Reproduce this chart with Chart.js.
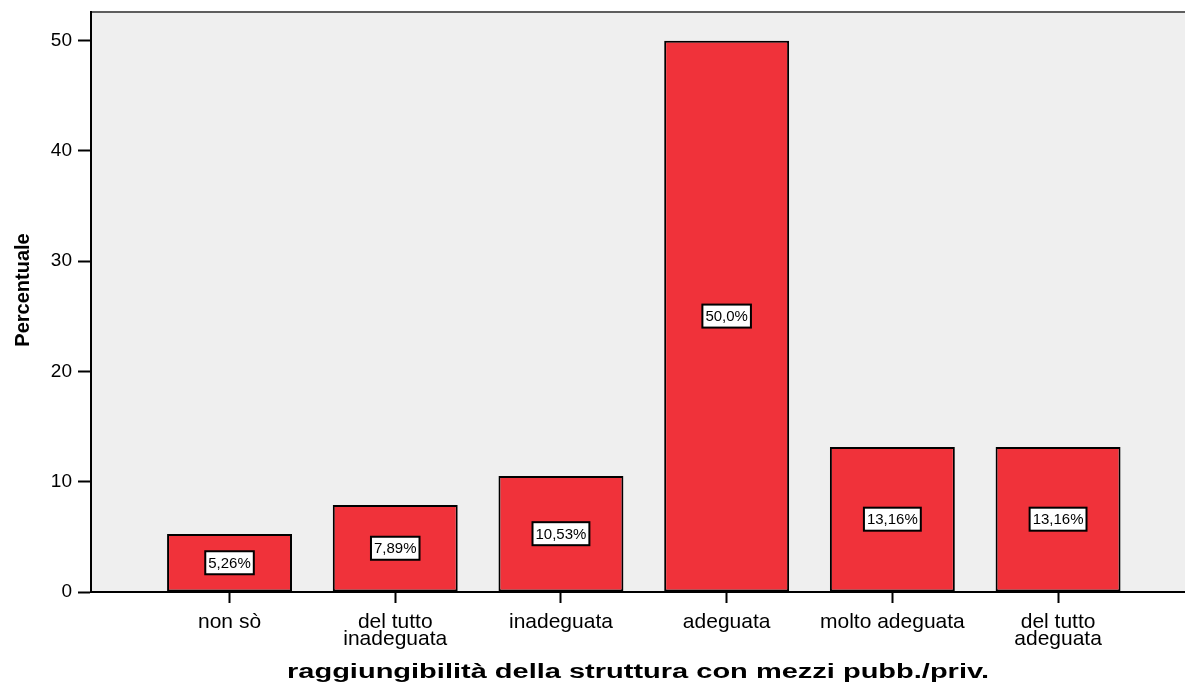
<!DOCTYPE html>
<html>
<head>
<meta charset="utf-8">
<script src="https://cdn.jsdelivr.net/npm/chart.js"></script>
<style>
  html, body { margin: 0; padding: 0; background: #ffffff; }
  #wrap { width: 1185px; height: 687px; position: relative; }
</style>
</head>
<body>
<div id="wrap"><canvas id="chart"></canvas></div>
<script>
// data
const categories = [
  ['non sò'],
  ['del tutto', 'inadeguata'],
  ['inadeguata'],
  ['adeguata'],
  ['molto adeguata'],
  ['del tutto', 'adeguata']
];
const percentages = [5.26, 7.89, 10.53, 50.0, 13.16, 13.16];
const valueLabels = ['5,26%', '7,89%', '10,53%', '50,0%', '13,16%', '13,16%'];
const yTicks = [0, 10, 20, 30, 40, 50];
const xTitle = 'raggiungibilità della struttura con mezzi pubb./priv.';
const yTitle = 'Percentuale';

const FONT = '"Liberation Sans", Arial, sans-serif';
const BAR_RED = 'rgb(240, 50, 58)';

// grey plot background + dark top frame line
const plotBackground = {
  id: 'plotBackground',
  beforeDraw(chart) {
    const { ctx, chartArea: a } = chart;
    ctx.save();
    ctx.fillStyle = '#efefef';
    ctx.fillRect(a.left, a.top, a.right - a.left, a.bottom - a.top);
    ctx.strokeStyle = '#5e5e5e';
    ctx.lineWidth = 2;
    ctx.beginPath();
    ctx.moveTo(a.left, a.top);
    ctx.lineTo(a.right, a.top);
    ctx.stroke();
    ctx.restore();
  }
};

// white boxed percentage in the middle of every bar
const boxedLabels = {
  id: 'boxedLabels',
  afterDatasetsDraw(chart) {
    const { ctx } = chart;
    const meta = chart.getDatasetMeta(0);
    ctx.save();
    ctx.font = '15px ' + FONT;
    ctx.textAlign = 'center';
    ctx.textBaseline = 'middle';
    meta.data.forEach((bar, i) => {
      const txt = valueLabels[i];
      const cy = (bar.y + bar.base) / 2;
      const w = ctx.measureText(txt).width + 6;
      const h = 23;
      ctx.fillStyle = '#ffffff';
      ctx.fillRect(bar.x - w / 2, cy - h / 2, w, h);
      ctx.strokeStyle = '#000000';
      ctx.lineWidth = 2;
      ctx.strokeRect(bar.x - w / 2, cy - h / 2, w, h);
      ctx.fillStyle = '#000000';
      ctx.fillText(txt, bar.x, cy + 1);
    });
    ctx.restore();
  }
};

// axis titles: x is drawn wide like the SPSS export, y sits a bit above centre
const axisTitles = {
  id: 'axisTitles',
  afterDraw(chart) {
    const { ctx, chartArea: a } = chart;
    ctx.save();
    ctx.font = 'bold 20px ' + FONT;
    ctx.textAlign = 'center';
    ctx.textBaseline = 'alphabetic';
    ctx.fillStyle = '#000000';
    ctx.translate((a.left + a.right) / 2, 678);
    ctx.scale(1.45, 1);
    ctx.fillText(xTitle, 0, 0);
    ctx.restore();

    ctx.save();
    ctx.font = 'bold 20px ' + FONT;
    ctx.textAlign = 'center';
    ctx.textBaseline = 'middle';
    ctx.fillStyle = '#000000';
    ctx.translate(23, (a.top + a.bottom) / 2 - 12);
    ctx.rotate(-Math.PI / 2);
    ctx.fillText(yTitle, 0, 0);
    ctx.restore();
  }
};

new Chart(document.getElementById('chart'), {
  type: 'bar',
  data: {
    datasets: [{
      data: percentages.map((v, i) => ({ x: i, y: v })),
      backgroundColor: BAR_RED,
      borderColor: '#000000',
      borderWidth: 2,
      borderSkipped: false,
      barPercentage: 0.754,
      categoryPercentage: 1
    }]
  },
  options: {
    responsive: true,
    maintainAspectRatio: false,
    animation: false,
    layout: { padding: { top: 12, right: 0, left: 0, bottom: 0 } },
    plugins: {
      legend: { display: false },
      tooltip: { enabled: false }
    },
    scales: {
      x: {
        type: 'linear',
        offset: false,
        min: -0.836,
        max: 5.766,
        afterBuildTicks(scale) {
          scale.ticks = categories.map((c, i) => ({ value: i }));
        },
        afterFit(scale) {
          scale.height = 95;
          scale.paddingLeft = 0;
          scale.paddingRight = 0;
        },
        ticks: {
          includeBounds: false,
          autoSkip: false,
          maxRotation: 0,
          padding: 11,
          color: '#000000',
          font: { family: FONT, size: 21, lineHeight: 0.81 },
          callback: (value) => categories[value]
        },
        grid: {
          offset: false,
          drawOnChartArea: false,
          drawTicks: true,
          tickLength: 11,
          tickWidth: 2,
          tickColor: '#000000'
        },
        border: { display: true, color: '#000000', width: 2 }
      },
      y: {
        min: 0,
        max: 52.6,
        afterBuildTicks(scale) {
          scale.ticks = yTicks.map(v => ({ value: v }));
        },
        afterFit(scale) {
          scale.width = 91;
          scale.paddingTop = 0;
          scale.paddingBottom = 0;
        },
        ticks: {
          includeBounds: false,
          padding: 6,
          color: '#000000',
          font: { family: FONT, size: 19 }
        },
        grid: {
          drawOnChartArea: false,
          drawTicks: true,
          tickLength: 13,
          tickWidth: 2,
          tickColor: '#000000'
        },
        border: { display: true, color: '#000000', width: 2 },
        title: { display: false, text: yTitle }
      }
    }
  },
  plugins: [plotBackground, boxedLabels, axisTitles]
});
</script>
</body>
</html>
